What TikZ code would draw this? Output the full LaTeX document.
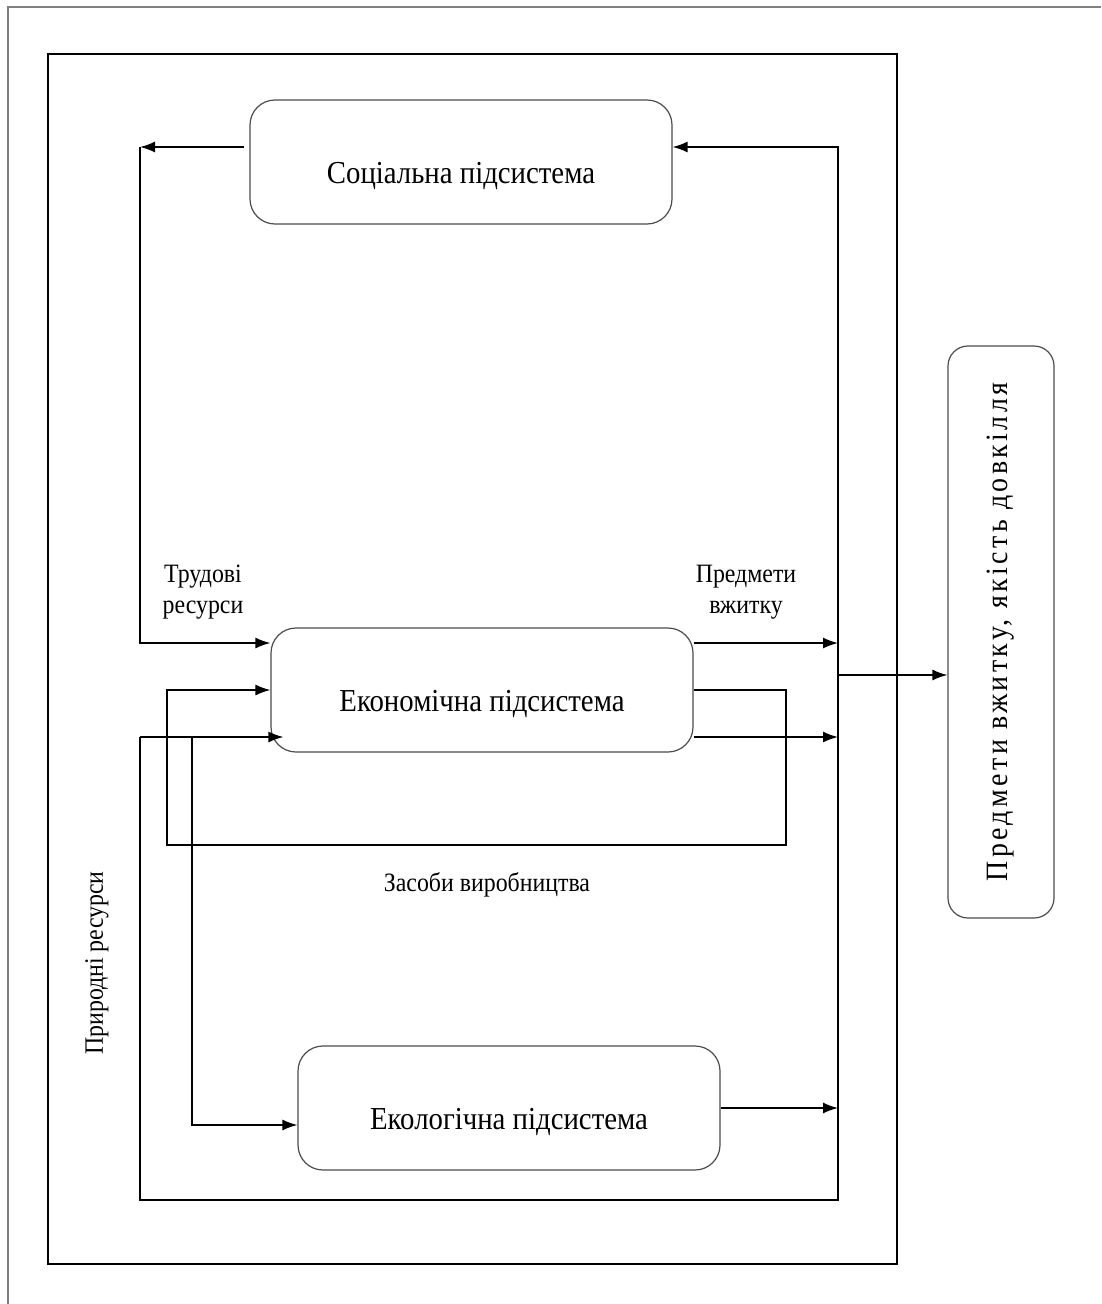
\documentclass[tikz,border=0pt]{standalone}
\usepackage{fontspec}
\setmainfont{Liberation Serif}[FakeStretch=0.9]
\usepackage{xcolor}
\usetikzlibrary{arrows,arrows.meta}
\tikzstyle{subsys}=[rectangle,rounded corners=25pt,draw=black!70,line width=1.2pt,minimum width=422pt,minimum height=124pt,text height=48pt,text depth=6pt,font=\fontsize{32}{38}\selectfont]
\tikzstyle{result}=[rectangle,rounded corners=20pt,draw=black!70,line width=1.2pt,minimum width=572pt,minimum height=106pt,rotate=90,font=\fontsize{31}{36}\selectfont\addfontfeature{LetterSpace=11}]
\tikzstyle{lab}=[font=\fontsize{26.5}{31}\selectfont,align=center]
\tikzstyle{frame}=[draw=gray,line width=2pt]

\begin{document}
\begin{tikzpicture}[x=1pt,y=-1pt,>={Latex[length=15pt,width=11pt]},line width=1.5pt]
        \useasboundingbox (0,0) rectangle (1101,1304);
        \draw [frame] (1101,7) -- (8,7) -- (8,1304);
        \draw [line width=1.5pt] (48,54) rectangle (897,1264);

        \node at (461,162)  [subsys] (soc)  {Соціальна підсистема};
        \node at (482,690)  [subsys] (econ) {Економічна підсистема};
        \node at (509,1108) [subsys] (eco)  {Екологічна підсистема};
        \node at (1001,632) [result] (out)  {Предмети вжитку, якість довкілля};

        \coordinate (ltop) at (140,147);
        \coordinate (rtop) at (838,147);
        \coordinate (lnat) at (140,737);
        \coordinate (lbot) at (140,1200);
        \coordinate (rbot) at (838,1200);
        \coordinate (nat)  at (192,737);
        \coordinate (mp)   at (786,845);
        \coordinate (mq)   at (167,845);
        \coordinate (u1)   at (838,643);
        \coordinate (u2)   at (838,737);
        \coordinate (hub)  at (838,675);

        \draw [->] ([xshift=-5pt]soc.west |- ltop) -- (ltop);
        \draw [->] (ltop) |- ([yshift=47pt]econ.west);
        \draw [->] (lnat) -- (lbot) -- (rbot) -- (rtop) -- (soc.east |- rtop);
        \draw [->,shorten >=-13pt] (lnat) -- (econ.west |- lnat);
        \draw [->] (nat) |- ([yshift=-17pt]eco.west);
        \draw [->] (econ.east) -| (mp) -- (mq) |- (econ.west);
        \draw [->] (econ.east |- u1) -- (u1);
        \draw [->] (econ.east |- u2) -- (u2);
        \draw [->] (eco.east) -- (eco.east -| rbot);
        \draw [->] (hub) -- (out.north |- hub);

        \node at (203,592) [lab] (labour) {Трудові\\ресурси};
        \node at (746,592) [lab] (goods)  {Предмети\\вжитку};
        \node at (487,885) [lab] (means)  {Засоби виробництва};
        \node at (97,963)  [lab,rotate=90] (nature) {Природні ресурси};
      \end{tikzpicture}
\end{document}
